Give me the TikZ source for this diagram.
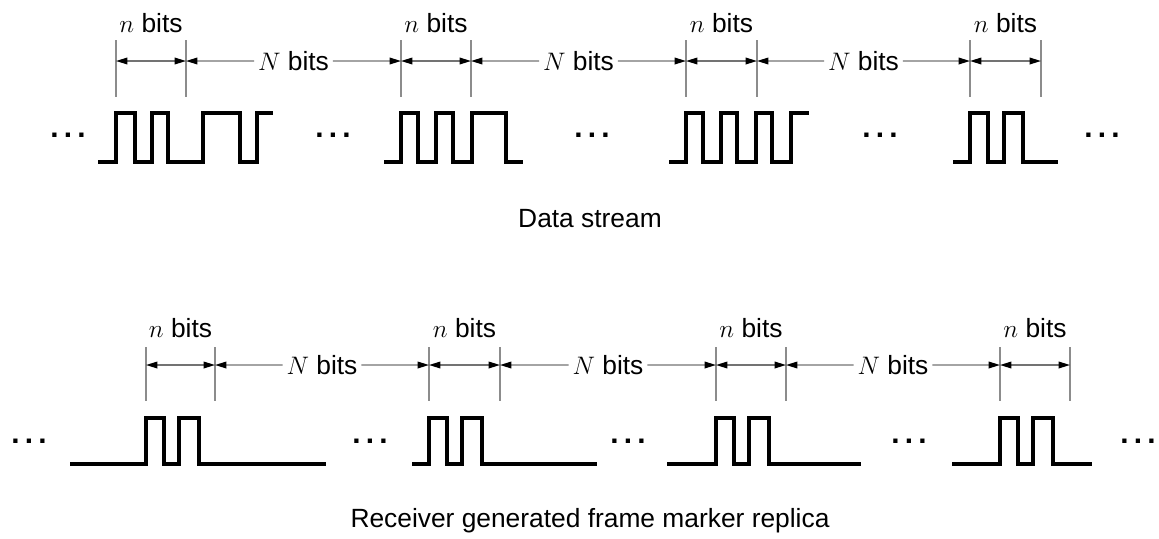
\documentclass[tikz,border=0pt]{standalone}
\usepackage{fontspec}
\setmainfont{Liberation Sans}
\usetikzlibrary{arrows.meta,calc}

\tikzset{
  wave/.style={line width=2.2pt, line join=miter},
  tick/.style={black!45, line width=0.6pt},
  dim/.style={black!55, line width=0.8pt, ->},
  bothdim/.style={black!55, line width=0.8pt, <->},
  lbl/.style={font=\fontsize{15}{18}\selectfont, inner sep=2pt},
  dots/.style={font=\fontsize{17}{20}\selectfont\bfseries, inner sep=0pt}
}
\newcommand{\skipdots}{.\kern3pt.\kern3pt.}

\begin{document}
\begin{tikzpicture}[x=0.02cm, y=-0.02cm,
    >={Triangle[length=6.5pt,width=3.8pt,color=black]}]
    \useasboundingbox (0,0) rectangle (1159,538);

    % data stream: n-bit windows
    \foreach \i/\l/\r in {1/116/186, 2/401/471, 3/686/757, 4/970/1041} {
        \draw[tick] (\l,40) -- (\l,97);
        \draw[tick] (\r,40) -- (\r,97);
        \coordinate (dl\i) at (\l,61);
        \coordinate (dr\i) at (\r,61);
        \node[lbl] (dn\i) at ({(\l+\r)/2},23) {$n$ bits};
        \draw[bothdim] (dl\i) -- (dr\i);
    }
    \foreach \i/\j in {1/2, 2/3, 3/4} {
        \node[lbl] (dN\i) at ($(dr\i)!0.5!(dl\j)$) {$N$ bits};
        \draw[dim] (dN\i.west) -- (dr\i);
        \draw[dim] (dN\i.east) -- (dl\j);
    }

    % data stream pulses
    \draw[wave] (98,162) -| (116,113) -| (135,162) -| (152,113) -| (168,162)
        -| (203,113) -| (240,162) -| (257,113) -- (273,113);
    \draw[wave] (384,162) -| (401,113) -| (418,162) -| (436,113) -| (453,162)
        -| (472,113) -| (506,162) -- (523,162);
    \draw[wave] (669,162) -| (686,113) -| (703,162) -| (721,113) -| (737,162)
        -| (756,113) -| (772,162) -| (791,113) -- (809,113);
    \draw[wave] (953,162) -| (970,113) -| (988,162) -| (1004,113) -| (1023,162)
        -- (1058,162);

    \foreach \x [count=\k] in {68,333,592,880,1102}
        \node[dots] (dd\k) at (\x,135) {\skipdots};
    \node[lbl] (dtitle) at (590,219) {Data stream};

    % replica: n-bit windows
    \foreach \i/\l/\r in {1/146/215, 2/429/500, 3/716/786, 4/1000/1070} {
        \draw[tick] (\l,347) -- (\l,401);
        \draw[tick] (\r,347) -- (\r,401);
        \coordinate (rl\i) at (\l,365);
        \coordinate (rr\i) at (\r,365);
        \node[lbl] (rn\i) at ({(\l+\r)/2},328) {$n$ bits};
        \draw[bothdim] (rl\i) -- (rr\i);
    }
    \foreach \i/\j in {1/2, 2/3, 3/4} {
        \node[lbl] (rN\i) at ($(rr\i)!0.5!(rl\j)$) {$N$ bits};
        \draw[dim] (rN\i.west) -- (rr\i);
        \draw[dim] (rN\i.east) -- (rl\j);
    }

    % replica pulses, same marker each frame
    \foreach \s/\t/\e in {70/146/326, 412/429/597, 667/716/861, 952/1000/1092}
        \draw[wave] (\s,464) -| (\t,418) -| ({\t+18},464) -| ({\t+33},418)
            -| ({\t+53},464) -- (\e,464);

    \foreach \x [count=\k] in {29,370,628,909,1138}
        \node[dots] (rd\k) at (\x,441) {\skipdots};
    \node[lbl] (rtitle) at (590,521) {Receiver generated frame marker replica};

\end{tikzpicture}
\end{document}
